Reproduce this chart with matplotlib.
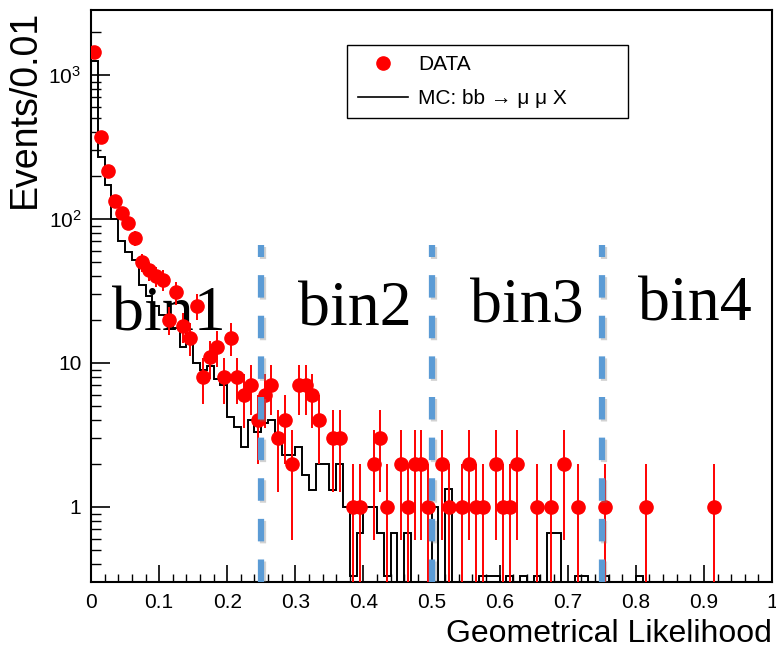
import numpy as np
import matplotlib
matplotlib.use("Agg")
import matplotlib.pyplot as plt
from matplotlib import patheffects
from matplotlib.lines import Line2D
from matplotlib.ticker import (FixedLocator, FixedFormatter, MultipleLocator,
                               NullFormatter, LogLocator, FuncFormatter)

plt.rcParams["font.family"] = ["Liberation Sans", "DejaVu Sans"]
plt.rcParams["mathtext.fontset"] = "custom"
plt.rcParams["mathtext.rm"] = "Liberation Sans"
plt.rcParams["mathtext.it"] = "Liberation Sans"

# data: bin centres (width 0.01) and event counts, empty bins left out
data_x = [0.005, 0.015, 0.025, 0.035, 0.045, 0.055, 0.065, 0.075, 0.085, 0.095,
          0.105, 0.115, 0.125, 0.135, 0.145, 0.155, 0.165, 0.175, 0.185, 0.195,
          0.205, 0.215, 0.225, 0.235, 0.245, 0.255, 0.265, 0.275, 0.285, 0.295,
          0.305, 0.315, 0.325, 0.335, 0.355, 0.365, 0.385, 0.395, 0.415, 0.425,
          0.435, 0.455, 0.465, 0.475, 0.485, 0.495, 0.515, 0.525, 0.545, 0.555,
          0.565, 0.575, 0.595, 0.605, 0.615, 0.625, 0.655, 0.675, 0.695, 0.715,
          0.755, 0.815, 0.915]
data_n = [1450, 372, 215, 133, 110, 94, 74, 50, 44, 40,
          38, 20, 31, 18, 15, 25, 8, 11, 13, 8,
          15, 8, 6, 7, 4, 6, 7, 3, 4, 2,
          7, 7, 6, 4, 3, 3, 1, 1, 2, 3,
          1, 2, 1, 2, 2, 1, 2, 1, 1, 2,
          1, 1, 2, 1, 1, 2, 1, 1, 2, 1,
          1, 1, 1]

# MC bb -> mu mu X, 100 bins from 0 to 1
mc_edges = np.linspace(0, 1, 101)
mc_vals = [1257, 271, 172, 100, 70, 59, 52, 35, 29, 25,
           21.5, 19, 17.4, 13, 16, 10, 9, 9.6, 7.8, 7,
           4.2, 3.6, 2.6, 4.0, 3.3, 3.8, 4.0, 3.0, 2.3, 2.3,
           2.6, 1.67, 1.31, 2.0, 2.0, 1.31, 2.0, 1.0, 0.33, 0.66,
           1.0, 1.0, 0.66, 0.33, 0.66, 0, 0.66, 0, 0, 0,
           1.0, 0, 1.33, 0, 0, 0, 0, 0.33, 0.33, 0.33,
           0, 0.33, 0, 0.33, 0, 0.33, 0, 0.66, 0.66, 0,
           0, 0.33, 0.33, 0, 0, 0.33, 0, 0, 0, 0,
           0.33, 0, 0, 0, 0, 0, 0, 0, 0, 0,
           0, 0, 0, 0, 0, 0, 0, 0, 0, 0]

cuts = [0.25, 0.5, 0.75]
bin_names = ["bin1", "bin2", "bin3", "bin4"]

fig = plt.figure(figsize=(7.76, 6.5), dpi=100)
ax = fig.add_axes([0.1173, 0.1046, 0.8776, 0.88])

n = np.array(data_n, dtype=float)
err_hi = np.sqrt(n)
err_lo = np.minimum(np.sqrt(n), n - 1e-3)  # single-event bins reach down to zero

ax.stairs(mc_vals, mc_edges, color="black", lw=1.4, zorder=2)
ax.errorbar(data_x, n, yerr=[err_lo, err_hi], fmt="none", ecolor="red",
            elinewidth=1.4, capsize=0, zorder=3)
ax.plot(data_x, n, "o", color="red", ms=9.5, zorder=4)

# category boundaries
shadow = [patheffects.SimpleLineShadow(offset=(1.5, -1.5), shadow_color="gray", alpha=0.35),
          patheffects.Normal()]
for c in cuts:
    ax.axvline(c, ymin=0.0, ymax=0.59, color="#5b9bd5", lw=4.5,
               dashes=(3.6, 2.9), zorder=5, path_effects=shadow)

name_pos = [(0.031, 0.44), (0.304, 0.449), (0.557, 0.453), (0.803, 0.458)]
for name, (px, py) in zip(bin_names, name_pos):
    ax.text(px, py, name, transform=ax.transAxes, fontsize=46,
            family="Liberation Serif", ha="left", va="baseline", zorder=1)

ax.set_yscale("log")
ax.set_xlim(0, 1)
ax.set_ylim(0.301, 2830)

ax.xaxis.set_major_locator(MultipleLocator(0.1))
ax.xaxis.set_minor_locator(MultipleLocator(0.02))
ax.xaxis.set_major_formatter(FuncFormatter(lambda v, p: f"{v:g}"))

ax.yaxis.set_major_locator(FixedLocator([1, 10, 100, 1000]))
ax.yaxis.set_major_formatter(FixedFormatter(["1", "10", "$10^{2}$", "$10^{3}$"]))
ax.yaxis.set_minor_locator(LogLocator(base=10, subs=np.arange(2, 10)))
ax.yaxis.set_minor_formatter(NullFormatter())

ax.tick_params(axis="x", which="major", direction="in", length=12, width=1.2,
               labelsize=15, pad=8)
ax.tick_params(axis="x", which="minor", direction="in", length=6, width=1.0)
ax.tick_params(axis="y", which="major", direction="in", length=14, width=1.2,
               labelsize=15, pad=7)
ax.tick_params(axis="y", which="minor", direction="in", length=7, width=1.0)
for s in ax.spines.values():
    s.set_linewidth(1.5)

fig.text(0.032, 0.985, "Events/0.01", rotation=90, ha="center", va="top", fontsize=27)
fig.text(772 / 776, 0.012, "Geometrical Likelihood", ha="right", va="baseline", fontsize=23)

handles = [Line2D([], [], marker="o", color="red", ls="none", ms=9.5),
           Line2D([], [], color="black", lw=1.2)]
leg = ax.legend(handles, ["DATA", "MC: bb \u2192 \u03bc \u03bc X"],
                loc="upper left", bbox_to_anchor=(0.376, 0.813, 0.413, 0.126),
                mode="expand", fontsize=15, frameon=True, fancybox=False,
                edgecolor="black", framealpha=1, borderpad=0.5, labelspacing=0.7,
                handlelength=2.4, handletextpad=0.5, borderaxespad=0)
leg.get_frame().set_linewidth(1.0)

fig.savefig("out.png", dpi=100)
